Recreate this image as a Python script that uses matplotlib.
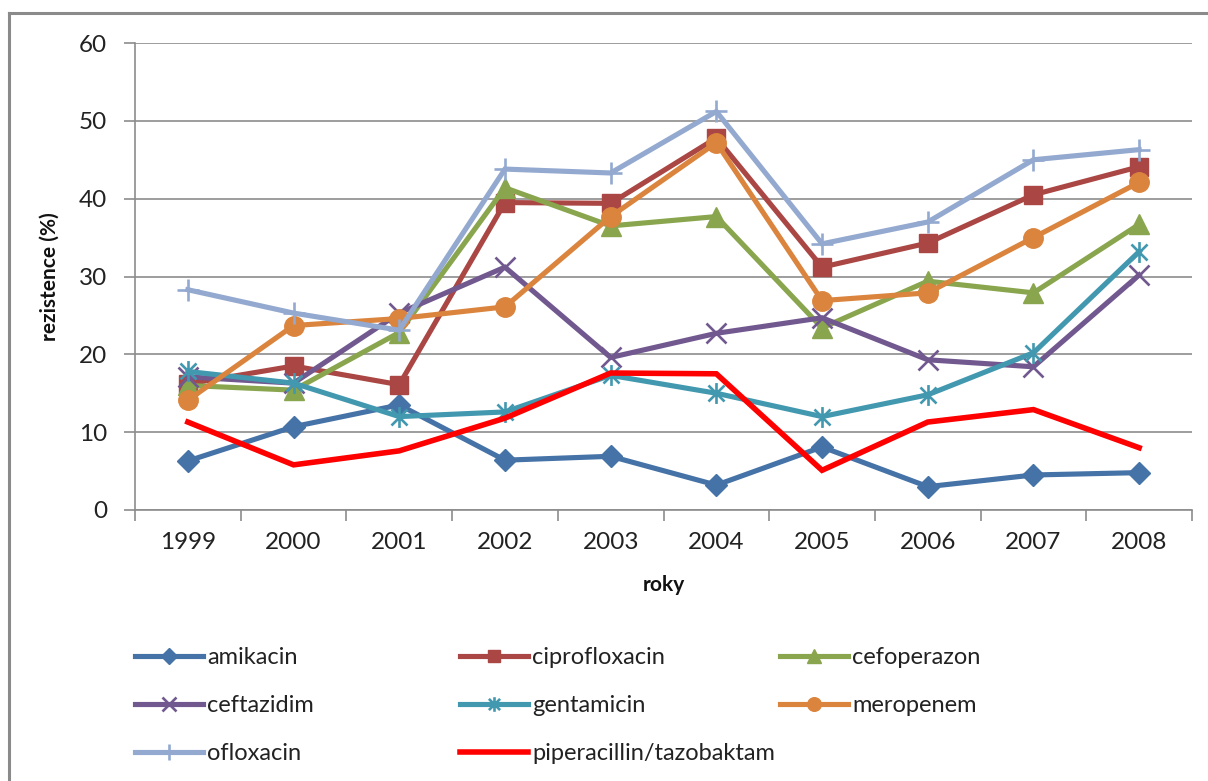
import matplotlib
matplotlib.use("Agg")
import matplotlib.pyplot as plt
from matplotlib.lines import Line2D
from matplotlib.path import Path

plt.rcParams["font.family"] = ["Lato", "DejaVu Sans"]

years = ["1999", "2000", "2001", "2002", "2003", "2004", "2005", "2006", "2007", "2008"]

amikacin = [6.3, 10.7, 13.5, 6.4, 6.9, 3.2, 8.1, 3.0, 4.5, 4.8]
ciprofloxacin = [16.2, 18.5, 16.1, 39.5, 39.4, 47.8, 31.2, 34.3, 40.5, 44.1]
cefoperazon = [16.0, 15.4, 22.8, 41.4, 36.5, 37.7, 23.4, 29.4, 27.9, 36.7]
ceftazidim = [17.1, 16.3, 25.3, 31.2, 19.6, 22.7, 24.7, 19.3, 18.4, 30.2]
gentamicin = [17.8, 16.3, 12.0, 12.6, 17.3, 15.0, 12.0, 14.8, 20.2, 33.2]
meropenem = [14.1, 23.7, 24.6, 26.1, 37.7, 47.2, 26.9, 27.9, 35.0, 42.1]
ofloxacin = [28.3, 25.3, 23.1, 43.8, 43.3, 51.2, 34.2, 37.0, 45.0, 46.3]
piperacillin_tazobaktam = [11.3, 5.8, 7.6, 11.8, 17.6, 17.5, 5.1, 11.3, 12.9, 8.0]

# Excel-style asterisk: a cross with a vertical bar through it
asterisk = Path(
    [(-1, -1), (1, 1), (-1, 1), (1, -1), (0, -1.3), (0, 1.3)],
    [Path.MOVETO, Path.LINETO, Path.MOVETO, Path.LINETO, Path.MOVETO, Path.LINETO],
)

series = [
    ("amikacin", amikacin, "#4572A7", "D", 11, 3.7),
    ("ciprofloxacin", ciprofloxacin, "#AA4643", "s", 12.5, 3.7),
    ("cefoperazon", cefoperazon, "#89A54E", "^", 14, 3.7),
    ("ceftazidim", ceftazidim, "#71588F", "x", 14, 3.7),
    ("gentamicin", gentamicin, "#4198AF", asterisk, 15, 3.7),
    ("meropenem", meropenem, "#DB843D", "o", 14, 3.7),
    ("ofloxacin", ofloxacin, "#93A9CF", "+", 16, 3.7),
    ("piperacillin/tazobaktam", piperacillin_tazobaktam, "#FF0000", None, 0, 4.0),
]

fig = plt.figure(figsize=(12.08, 7.81), dpi=100)
ax = fig.add_axes([135 / 1208, 1 - 510 / 781, 1057 / 1208, 467 / 781])

xs = list(range(len(years)))
handles = {}
for name, vals, color, marker, ms, lw in series:
    mew = 1.9 if marker in ("x", "+") or marker is asterisk else 1.0
    (ln,) = ax.plot(
        xs, vals, color=color, lw=lw, marker=marker, ms=ms,
        mec=color, mfc=color, mew=mew, solid_capstyle="projecting",
        solid_joinstyle="miter", zorder=3,
    )
    handles[name] = ln

ax.set_xlim(-0.5, len(years) - 0.5)
ax.set_ylim(0, 60)
ax.set_yticks(range(0, 61, 10))
ax.yaxis.grid(True, color="#8c8c8c", lw=1.2)
ax.set_axisbelow(True)

# category boundaries get the tick marks, labels sit in between
ax.set_xticks([i - 0.5 for i in range(len(years) + 1)])
ax.set_xticklabels([])
ax.set_xticks(xs, minor=True)
ax.set_xticklabels(years, minor=True)
ax.tick_params(axis="x", which="minor", length=0, pad=16, labelsize=17.5, colors="#222222")
ax.tick_params(axis="x", which="major", length=8, width=1.2, color="#8c8c8c", direction="out")
ax.tick_params(axis="y", length=8, width=1.2, color="#8c8c8c", pad=12, labelsize=17.5,
               labelcolor="#222222")

for side in ("top", "right"):
    ax.spines[side].set_visible(False)
for side in ("left", "bottom"):
    ax.spines[side].set_color("#8c8c8c")
    ax.spines[side].set_linewidth(1.2)

ax.set_ylabel("rezistence (%)", fontsize=15, fontweight="bold", color="#111111", labelpad=14)
ax.set_xlabel("roky", fontsize=15, fontweight="bold", color="#111111", labelpad=16)

# chart frame (top and left edges)
fig.add_artist(Line2D([9 / 1208, 9 / 1208], [0, 1 - 13 / 781], color="#8a8a8a", lw=2.2,
                      transform=fig.transFigure))
fig.add_artist(Line2D([9 / 1208, 1], [1 - 13 / 781, 1 - 13 / 781], color="#8a8a8a", lw=2.2,
                      transform=fig.transFigure))

# legend in three columns
columns = [
    (135, ["amikacin", "ceftazidim", "ofloxacin"]),
    (460, ["ciprofloxacin", "gentamicin", "piperacillin/tazobaktam"]),
    (780, ["cefoperazon", "meropenem"]),
]
for x0, names in columns:
    fig.legend(
        [handles[n] for n in names], names,
        loc="upper left", bbox_to_anchor=(x0 / 1208, 1 - 647 / 781),
        frameon=False, fontsize=17, handlelength=2.9, handletextpad=0.15,
        labelspacing=1.15, borderaxespad=0, borderpad=0, markerscale=0.7,
        labelcolor="#222222",
    )

fig.savefig("out.png", dpi=100, facecolor="white")
